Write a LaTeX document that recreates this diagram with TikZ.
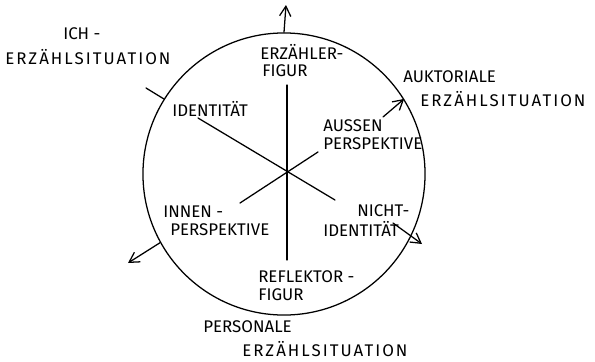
\documentclass[tikz,border=0pt]{standalone}
\usepackage{fontspec}
\setmainfont{Fira Sans}
\usetikzlibrary{arrows.meta}

\begin{document}
\begin{tikzpicture}[x=0.025cm,y=-0.025cm,
  lbl/.style={anchor=west,inner sep=0pt,font=\fontsize{12}{14}\selectfont},
  weit/.style={lbl,font=\fontsize{12}{14}\selectfont\addfontfeature{LetterSpace=12}},
  strich/.style={line width=0.9pt,line cap=round},
  pfeil/.style={strich,-{Straight Barb[length=7pt,width=8pt]}}]
\useasboundingbox (0,0) rectangle (595,362);
\node[draw,circle,line width=0.9pt,minimum size=7.05cm,inner sep=0pt](kreis) at (284,174){};

% Beschriftungen
\node[lbl](ich1) at (63,34){ICH -};
\node[weit](ich2) at (5,57){ERZÄHLSITUATION};
\node[lbl](erz1) at (260,52){ERZÄHLER-};
\node[lbl](erz2) at (262,71){FIGUR};
\node[lbl](auk1) at (403,77){AUKTORIALE};
\node[weit](auk2) at (420,99){ERZÄHLSITUATION};
\node[lbl](ident) at (172,109){IDENTITÄT};
\node[lbl](aus1) at (323,126){AUSSEN};
\node[lbl](aus2) at (323,144){PERSPEKTIVE};
\node[lbl](inn1) at (163,212){INNEN -};
\node[lbl](inn2) at (170,230){PERSPEKTIVE};
\node[lbl](nicht1) at (357,211){NICHT-};
\node[lbl](nicht2) at (323,229){IDENTITÄT};
\node[lbl](refl1) at (258,277){REFLEKTOR -};
\node[lbl](refl2) at (258,295){FIGUR};
\node[lbl](pers1) at (203,327){PERSONALE};
\node[weit](pers2) at (242,349){ERZÄHLSITUATION};

% Achsen
\coordinate(vo) at (287,85);
\coordinate(vu) at (287,260);
\coordinate(io) at (198,118);
\coordinate(iu) at (335,200);
\coordinate(pu) at (240,203);
\coordinate(po) at (318,152);
\coordinate(oben) at (286,5);
\coordinate(ichende) at (146,88);
\coordinate(aussenstart) at (383,117);
\coordinate(nichtstart) at (393,223);
\coordinate(nichtende) at (422,244);
\coordinate(innenende) at (128,263);

\draw[strich](vo)--(vu);
\draw[strich](io)--(iu);
\draw[strich](pu)--(po);
\draw[pfeil](kreis.north)--(oben);
\draw[strich](kreis.148)--(ichende);
\draw[pfeil](aussenstart)--(kreis.32);
\draw[pfeil](nichtstart)--(nichtende);
\draw[pfeil](kreis.209)--(innenende);
\end{tikzpicture}
\end{document}
